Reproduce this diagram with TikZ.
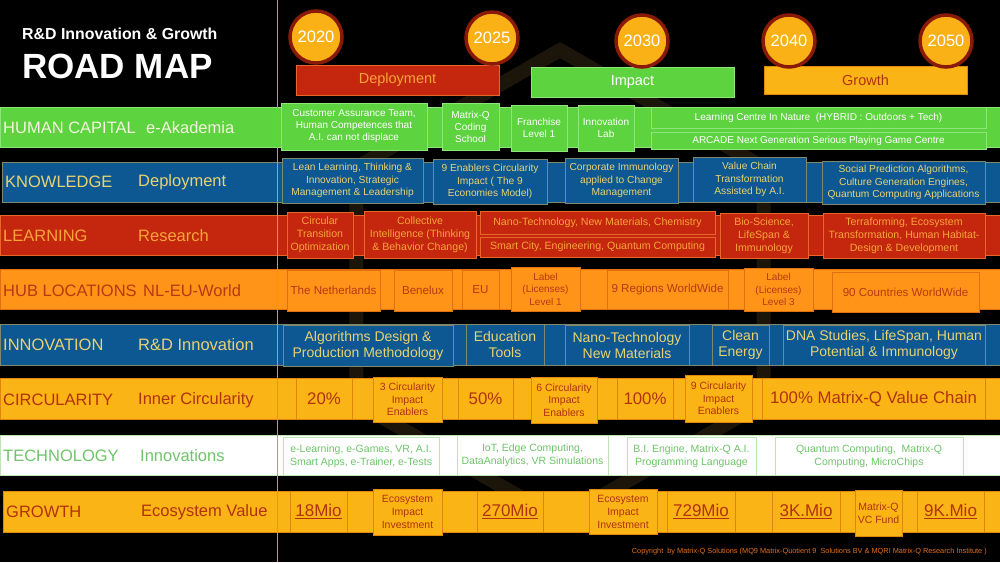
\documentclass[tikz,border=0pt]{standalone}
\usepackage{fontspec}
\setmainfont{Liberation Sans}
\usetikzlibrary{shapes.geometric}
\definecolor{cG}{HTML}{5ED340}
\definecolor{cGb}{HTML}{8EE67A}
\definecolor{cGt}{HTML}{F2F4DC}
\definecolor{cB}{HTML}{0D5892}
\definecolor{cBb}{HTML}{7F8A6C}
\definecolor{cBt}{HTML}{E8D272}
\definecolor{cR}{HTML}{C4260E}
\definecolor{cRb}{HTML}{E8662A}
\definecolor{cRt}{HTML}{F8A43A}
\definecolor{cO}{HTML}{FF9418}
\definecolor{cOb}{HTML}{E07010}
\definecolor{cOt}{HTML}{B53A12}
\definecolor{cY}{HTML}{FBB416}
\definecolor{cYb}{HTML}{E0860E}
\definecolor{cYt}{HTML}{B0320E}
\definecolor{cTt}{HTML}{6FC46A}
\definecolor{cTb}{HTML}{BFE5B5}
\definecolor{cYr}{HTML}{F9B115}
\definecolor{cYrb}{HTML}{8A1A08}
\definecolor{cLine}{HTML}{D89A30}
\definecolor{cWm}{HTML}{1C160A}
\definecolor{cCopy}{HTML}{E0701E}
\newcommand\rbox[7]{%
  \pgfmathsetmacro\rbW{#5-#3}\pgfmathsetmacro\rbH{#6-#4}%
  \pgfmathsetmacro\rbX{(#3+#5)/2}\pgfmathsetmacro\rbY{(#4+#6)/2}%
  \node[#2, minimum width=\rbW pt, minimum height=\rbH pt, inner sep=0pt, align=center] (#1) at (\rbX,\rbY) {#7};}
\begin{document}
\begin{tikzpicture}[x=1pt,y=-1pt,
  band/.style={line width=0.8pt},
  lbl/.style={anchor=west, inner sep=0pt, font=\fontsize{16.5}{18}\selectfont},
  hcbox/.style={fill=cG, draw=cGb, line width=0.8pt, text=white, font=\fontsize{10}{12}\selectfont},
  knbox/.style={fill=cB, draw=cBb, line width=0.8pt, text=cBt, font=\fontsize{10.2}{12.5}\selectfont},
  lrbox/.style={fill=cR, draw=cRb, line width=0.8pt, text=cRt, font=\fontsize{10.6}{13}\selectfont},
  hubbox/.style={fill=cO, draw=cOb, line width=0.8pt, text=cOt, font=\fontsize{11.6}{13}\selectfont},
  hubsmall/.style={hubbox, font=\fontsize{10}{12.5}\selectfont},
  inbox/.style={fill=cB, draw=cBb, line width=0.8pt, text=cBt, font=\fontsize{14}{16}\selectfont},
  cibig/.style={fill=cY, draw=cYb, line width=0.8pt, text=cYt, font=\fontsize{16.8}{18}\selectfont},
  cismall/.style={fill=cY, draw=cYb, line width=0.8pt, text=cYt, font=\fontsize{10.5}{12.5}\selectfont},
  tebox/.style={fill=white, draw=cTb, line width=0.8pt, text=cTt, font=\fontsize{10.5}{13}\selectfont},
  grbig/.style={fill=cY, draw=cYb, line width=0.8pt, text=cYt, font=\fontsize{17}{18}\selectfont},
  grsmall/.style={fill=cY, draw=cYb, line width=0.8pt, text=cYt, font=\fontsize{10.5}{13}\selectfont},
  yr/.style={circle, minimum size=52pt, inner sep=0pt, fill=cYr, draw=cYrb, line width=3.5pt, text=white, font=\fontsize{16.5}{18}\selectfont},
  phase/.style={line width=0.8pt, font=\fontsize{14.5}{16}\selectfont}
]
\useasboundingbox (0,0) rectangle (1000,562);
\fill[black] (0,0) rectangle (1000,562);
% faint watermark
\node[regular polygon, regular polygon sides=6, shape border rotate=30, minimum size=470pt, draw=cWm, line width=14pt] (hex) at (560,285) {};
% title
\node[anchor=west, inner sep=0pt, text=white, font=\bfseries\fontsize{15.9}{17}\selectfont] (title1) at (22,34) {R\&D Innovation \& Growth};
\node[anchor=west, inner sep=0pt, text=white, font=\bfseries\fontsize{35}{38}\selectfont] (title2) at (22,66) {ROAD MAP};
% phase bars
\rbox{dep}{phase, fill=cR, draw=cRb, text=cRt}{296}{65}{499}{95}{Deployment}
\rbox{imp}{phase, fill=cG, draw=cGb, text=white}{531}{67}{734}{97}{Impact}
\rbox{grw}{phase, fill=cY, draw=cYb, text=cYt}{764}{66}{967}{94}{Growth}
% year circles
\node[yr] (y2020) at (316,37) {2020};
\node[yr] (y2025) at (492,38) {2025};
\node[yr] (y2030) at (642,41) {2030};
\node[yr] (y2040) at (789,41) {2040};
\node[yr] (y2050) at (946,41) {2050};
% bands
\rbox{bhc}{band, fill=cG, draw=cGb}{0}{107}{1004}{147}{}
\rbox{bkn}{band, fill=cB, draw=cBb}{2}{162}{1004}{202}{}
\rbox{blr}{band, fill=cR, draw=cRb}{0}{215}{1004}{255}{}
\rbox{bhb}{band, fill=cO, draw=cOb}{0}{269}{1004}{309}{}
\rbox{bin}{band, fill=cB, draw=cBb}{0}{324}{1004}{365}{}
\rbox{bci}{band, fill=cY, draw=cYb}{0}{378}{1004}{419}{}
\rbox{bte}{band, fill=white, draw=cTb}{0}{435}{1004}{475}{}
\rbox{bgr}{band, fill=cY, draw=cYb}{3}{491}{1004}{532}{}
% vertical line
\coordinate (vtop) at (277,0);
\coordinate (vbot) at (277,562);
\draw[cLine, line width=1pt] (vtop) -- (vbot);
% row labels
\node[lbl, text=cGt] (l1a) at (3,128) {HUMAN CAPITAL};
\node[lbl, text=cGt] (l1b) at (146,128) {e-Akademia};
\node[lbl, text=cBt] (l2a) at (5,182) {KNOWLEDGE};
\node[lbl, text=cBt] (l2b) at (138,182) {Deployment};
\node[lbl, text=cRt] (l3a) at (3,236) {LEARNING};
\node[lbl, text=cRt] (l3b) at (138,236) {Research};
\node[lbl, text=cOt] (l4a) at (3,291) {HUB LOCATIONS};
\node[lbl, text=cOt] (l4b) at (143,291) {NL-EU-World};
\node[lbl, text=cBt] (l5a) at (3,345) {INNOVATION};
\node[lbl, text=cBt] (l5b) at (138,345) {R\&D Innovation};
\node[lbl, text=cYt] (l6a) at (3,400) {CIRCULARITY};
\node[lbl, text=cYt] (l6b) at (138,400) {Inner Circularity};
\node[lbl, text=cTt] (l7a) at (3,456) {TECHNOLOGY};
\node[lbl, text=cTt] (l7b) at (140,456) {Innovations};
\node[lbl, text=cYt] (l8a) at (6,512) {GROWTH};
\node[lbl, text=cYt] (l8b) at (141,512) {Ecosystem Value};
% HUMAN CAPITAL
\rbox{hc1}{hcbox}{281}{103}{427}{150}{Customer Assurance Team,\\Human Competences that\\A.I. can not displace}
\rbox{hc2}{hcbox}{442}{103}{499}{150}{Matrix-Q\\Coding\\School}
\rbox{hc3}{hcbox}{511}{105}{567}{151}{Franchise\\Level 1}
\rbox{hc4}{hcbox}{578}{105}{634}{151}{Innovation\\Lab}
\rbox{hc5}{hcbox}{651}{107}{986}{128}{Learning Centre In Nature~ (HYBRID : Outdoors + Tech)}
\rbox{hc6}{hcbox}{651}{132}{986}{149}{ARCADE Next Generation Serious Playing Game Centre}
% KNOWLEDGE
\rbox{kn1}{knbox}{282}{158}{423}{203}{Lean Learning, Thinking \&\\Innovation, Strategic\\Management \& Leadership}
\rbox{kn2}{knbox}{433}{159}{547}{204}{9 Enablers Circularity\\Impact ( The 9\\Economies Model)}
\rbox{kn3}{knbox}{565}{158}{678}{203}{Corporate Immunology\\applied to Change\\Management}
\rbox{kn4}{knbox}{693}{157}{806}{202}{Value Chain\\Transformation\\Assisted by A.I.}
\rbox{kn5}{knbox}{822}{161}{985}{204}{Social Prediction Algorithms,\\Culture Generation Engines,\\Quantum Computing Applications}
% LEARNING
\rbox{lr1}{lrbox}{287}{212}{353}{258}{Circular\\Transition\\Optimization}
\rbox{lr2}{lrbox}{364}{211}{476}{258}{Collective\\Intelligence (Thinking\\\& Behavior Change)}
\rbox{lr3}{lrbox}{480}{211}{715}{234}{Nano-Technology, New Materials, Chemistry}
\rbox{lr4}{lrbox}{480}{237}{715}{257}{Smart City, Engineering, Quantum Computing}
\rbox{lr5}{lrbox}{720}{213}{808}{258}{Bio-Science,\\LifeSpan \&\\Immunology}
\rbox{lr6}{lrbox}{823}{213}{985}{258}{Terraforming, Ecosystem\\Transformation, Human Habitat-\\Design \& Development}
% HUB LOCATIONS
\rbox{hb1}{hubbox}{287}{270}{380}{311}{The Netherlands}
\rbox{hb2}{hubbox}{394}{270}{452}{311}{Benelux}
\rbox{hb3}{hubbox}{462}{270}{499}{309}{EU}
\rbox{hb4}{hubsmall}{511}{267}{580}{311}{Label\\(Licenses)\\Level 1}
\rbox{hb5}{hubbox}{607}{270}{728}{309}{9 Regions WorldWide}
\rbox{hb6}{hubsmall}{744}{268}{813}{311}{Label\\(Licenses)\\Level 3}
\rbox{hb7}{hubbox}{832}{272}{979}{312}{90 Countries WorldWide}
% INNOVATION
\rbox{in1}{inbox}{283}{325}{453}{366}{Algorithms Design \&\\Production Methodology}
\rbox{in2}{inbox}{466}{324}{544}{365}{Education\\Tools}
\rbox{in3}{inbox}{565}{325}{689}{365}{Nano-Technology\\New Materials}
\rbox{in4}{inbox}{712}{325}{769}{365}{Clean\\Energy}
\rbox{in5}{inbox}{783}{325}{985}{365}{DNA Studies, LifeSpan, Human\\Potential \& Immunology}
% CIRCULARITY
\rbox{ci1}{cibig}{296}{378}{352}{419}{20\%}
\rbox{ci2}{cismall}{373}{377}{442}{422}{3 Circularity\\Impact\\Enablers}
\rbox{ci3}{cibig}{458}{378}{513}{419}{50\%}
\rbox{ci4}{cismall}{531}{377}{597}{423}{6 Circularity\\Impact\\Enablers}
\rbox{ci5}{cibig}{617}{378}{673}{419}{100\%}
\rbox{ci6}{cismall}{685}{375}{752}{422}{9 Circularity\\Impact\\Enablers}
\rbox{ci7}{cibig}{762}{378}{985}{419}{100\% Matrix-Q Value Chain}
% TECHNOLOGY
\rbox{te1}{tebox}{283}{437}{439}{475}{e-Learning, e-Games, VR, A.I.\\Smart Apps, e-Trainer, e-Tests}
\rbox{te2}{tebox}{457}{435}{608}{475}{IoT, Edge Computing,\\DataAnalytics, VR Simulations}
\rbox{te3}{tebox}{627}{437}{756}{475}{B.I. Engine, Matrix-Q A.I.\\Programming Language}
\rbox{te4}{tebox}{775}{437}{963}{475}{Quantum Computing,~ Matrix-Q\\Computing, MicroChips}
% GROWTH
\rbox{gr1}{grbig}{290}{491}{347}{532}{\underline{18Mio}}
\rbox{gr2}{grsmall}{373}{489}{442}{535}{Ecosystem\\Impact\\Investment}
\rbox{gr3}{grbig}{477}{491}{543}{532}{\underline{270Mio}}
\rbox{gr4}{grsmall}{589}{489}{657}{534}{Ecosystem\\Impact\\Investment}
\rbox{gr5}{grbig}{667}{491}{735}{532}{\underline{729Mio}}
\rbox{gr6}{grbig}{772}{491}{840}{532}{\underline{3K.Mio}}
\rbox{gr7}{grsmall}{855}{490}{902}{536}{Matrix-Q\\VC Fund}
\rbox{gr8}{grbig}{917}{491}{984}{532}{\underline{9K.Mio}}
% copyright
\node[anchor=east, inner sep=0pt, text=cCopy, font=\fontsize{7.35}{8}\selectfont] (copy) at (987,552) {Copyright~ by Matrix-Q Solutions (MQ9 Matrix-Quotient 9~ Solutions BV \& MQRI Matrix-Q Research Institute )};
\end{tikzpicture}
\end{document}
